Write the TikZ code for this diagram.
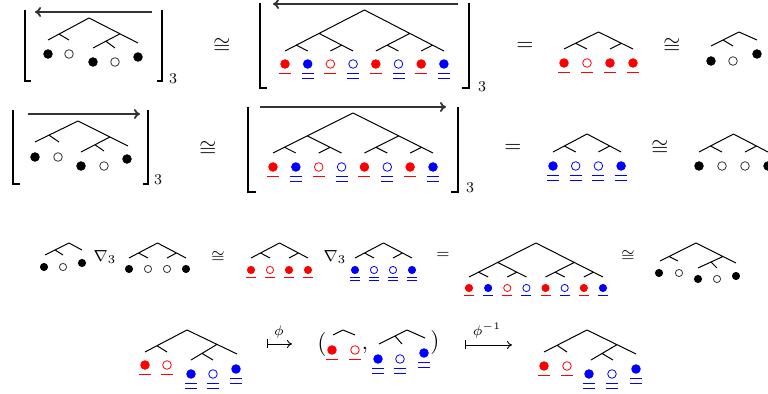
\documentclass[tikz,border=0pt]{standalone}
\usetikzlibrary{arrows.meta}
\begin{document}
\newcount\dotc
\def\ua{9.7}\def\ub{14.3}\def\uw{6}\def\blsingle{0}\def\ds{4.3pt}
\tikzset{
 tedge/.style={line width=0.5pt},
 dot/.style={circle,inner sep=0pt,minimum size=\ds},
 ul/.style={line width=0.5pt},
 brk/.style={line width=0.7pt},
 toparr/.style={line width=0.9pt, black!80, -{To[length=3pt,width=5pt]}},
 maps/.style={line width=0.45pt, {Bar[width=4.5pt]}-{To[length=2.5pt,width=4pt]}},
 txt/.style={inner sep=0pt, font=\fontsize{10.5}{12}\selectfont},
 stxt/.style={inner sep=0pt, font=\fontsize{8.5}{10}\selectfont},
 sub/.style={inner sep=0pt, font=\fontsize{7.5}{9}\selectfont},
}
\newcommand\mkdot[4]{\global\advance\dotc by 1
 \node[dot,fill=#1,draw=#2,line width=0.4pt] (dot\the\dotc) at (#3,#4) {};}
\newcommand\ulR[2]{\draw[ul,red] ({#1-\uw},{#2+\ua}) -- ({#1+\uw},{#2+\ua});}
\newcommand\ulB[2]{\draw[ul,blue] ({#1-\uw},{#2+\ua}) -- ({#1+\uw},{#2+\ua});
 \ifnum\blsingle=0 \draw[ul,blue] ({#1-\uw},{#2+\ub}) -- ({#1+\uw},{#2+\ub});\fi}
\newcommand\dRf[2]{\mkdot{red}{red}{#1}{#2}\ulR{#1}{#2}}
\newcommand\dRo[2]{\mkdot{white}{red}{#1}{#2}\ulR{#1}{#2}}
\newcommand\dBf[2]{\mkdot{blue}{blue}{#1}{#2}\ulB{#1}{#2}}
\newcommand\dBo[2]{\mkdot{white}{blue}{#1}{#2}\ulB{#1}{#2}}
\newcommand\dKf[2]{\mkdot{black}{black}{#1}{#2}}
\newcommand\dKo[2]{\mkdot{white}{black!80}{#1}{#2}}
% four-leaf tree: name, x0, dx, yleaf, slope, ydot, dot styles
\newcommand\FourT[7]{%
 \coordinate (#1r) at ({#2+1.5*#3},{#4-#5*1.5*#3});
 \coordinate (#1a) at ({#2+0.5*#3},{#4-#5*0.5*#3});
 \coordinate (#1b) at ({#2+2.5*#3},{#4-#5*0.5*#3});
 \foreach \i in {0,...,3} {\coordinate (#1l\i) at ({#2+\i*#3},#4);}
 \draw[tedge] (#1r)--(#1l0) (#1r)--(#1l3) (#1a)--(#1l1) (#1b)--(#1l2);
 \foreach \st [count=\i from 0] in {#7} {\pgfmathsetmacro\xx{#2+\i*#3}\csname\st\endcsname{\xx}{#6}}
}
% eight-leaf tree
\newcommand\EightT[7]{%
 \coordinate (#1r) at ({#2+3.5*#3},{#4-#5*3.5*#3});
 \coordinate (#1a) at ({#2+1.5*#3},{#4-#5*1.5*#3});
 \coordinate (#1b) at ({#2+5.5*#3},{#4-#5*1.5*#3});
 \coordinate (#1aa) at ({#2+0.5*#3},{#4-#5*0.5*#3});
 \coordinate (#1ab) at ({#2+2.5*#3},{#4-#5*0.5*#3});
 \coordinate (#1ba) at ({#2+4.5*#3},{#4-#5*0.5*#3});
 \coordinate (#1bb) at ({#2+6.5*#3},{#4-#5*0.5*#3});
 \foreach \i in {0,...,7} {\coordinate (#1l\i) at ({#2+\i*#3},#4);}
 \draw[tedge] (#1r)--(#1l0) (#1r)--(#1l7) (#1a)--(#1l3) (#1b)--(#1l4)
   (#1aa)--(#1l1) (#1ab)--(#1l2) (#1ba)--(#1l5) (#1bb)--(#1l6);
 \foreach \st [count=\i from 0] in {#7} {\pgfmathsetmacro\xx{#2+\i*#3}\csname\st\endcsname{\xx}{#6}}
}
\newcommand\FiveE[1]{\draw[tedge] (#1R)--(#1L1) (#1A)--(#1L2) (#1R)--(#1L5) (#1B)--(#1L3) (#1C)--(#1L4);}
\newcommand\ThreeE[1]{\draw[tedge] (#1R)--(#1L1) (#1A)--(#1L2) (#1R)--(#1L3);}
\newcommand\FiveC[9]{\coordinate (#1R) at (#2); \coordinate (#1L1) at (#3); \coordinate (#1A) at (#4);
 \coordinate (#1L2) at (#5); \coordinate (#1L5) at (#6); \coordinate (#1B) at (#7); \coordinate (#1L3) at (#8); \coordinate (#1C) at (#9);}

\begin{tikzpicture}[x=0.5pt,y=-0.5pt]
\path[use as bounding box] (0,0) rectangle (768,394);

%================ ROW 1
% bracket 1
\coordinate (b1tl) at (25,10); \coordinate (b1bl) at (25,81); \coordinate (b1fl) at (31,81);
\coordinate (b1tr) at (162,10); \coordinate (b1br) at (162,81); \coordinate (b1fr) at (157,81);
\draw[brk] (b1tl) -- (b1bl) -- (b1fl);
\draw[brk] (b1tr) -- (b1br) -- (b1fr);
\node[sub] (s1) at (173,79) {3};
\coordinate (a1s) at (152,12); \coordinate (a1e) at (35,12);
\draw[toparr] (a1s) -- (a1e);
\FiveC{T1}{89,18}{48,40}{59,34.1}{69,40}{138,43}{120,33.8}{93,48}{106,41.3}
\coordinate (T1L4) at (115,48);
\FiveE{T1}
\dKf{48}{54}\dKo{69}{54}\dKf{93}{62}\dKo{115}{62}\dKf{138}{57}

\node[txt] (c1) at (222,46) {$\cong$};

% bracket 2
\coordinate (b2tl) at (260,3); \coordinate (b2bl) at (260,88); \coordinate (b2fl) at (267,88);
\coordinate (b2tr) at (469,3); \coordinate (b2br) at (469,88); \coordinate (b2fr) at (462,88);
\draw[brk] (b2tl) -- (b2bl) -- (b2fl);
\draw[brk] (b2tr) -- (b2br) -- (b2fr);
\node[sub] (s2) at (482,87) {3};
\coordinate (a2s) at (458,4); \coordinate (a2e) at (273,4);
\draw[toparr] (a2s) -- (a2e);
\EightT{T2}{285}{22.7}{51}{0.516}{64}{dRf,dBf,dRo,dBo,dRf,dBo,dRf,dBf}

\node[txt] (e1) at (525,46) {$=$};
\FourT{T3}{564}{23}{49}{0.493}{63}{dRf,dRo,dRf,dRf}
\node[txt] (c2) at (672,46) {$\cong$};
\coordinate (T4R) at (739,32); \coordinate (T4L1) at (711,46); \coordinate (T4A) at (723,40);
\coordinate (T4L2) at (733,46); \coordinate (T4L3) at (757,40);
\ThreeE{T4}
\dKf{711}{61}\dKo{733}{61}\dKf{757}{54}

%================ ROW 2
\coordinate (b3tl) at (13,110); \coordinate (b3bl) at (13,184); \coordinate (b3fl) at (20,184);
\coordinate (b3tr) at (148,110); \coordinate (b3br) at (148,184); \coordinate (b3fr) at (143,184);
\draw[brk] (b3tl) -- (b3bl) -- (b3fl);
\draw[brk] (b3tr) -- (b3br) -- (b3fr);
\node[sub] (s3) at (158,180) {3};
\coordinate (a3s) at (28,114); \coordinate (a3e) at (140,114);
\draw[toparr] (a3s) -- (a3e);
\FiveC{U1}{78,121}{35,142}{49,135.2}{59,142}{128,146}{110,137}{81,152}{95,144.8}
\coordinate (U1L4) at (104,151);
\FiveE{U1}
\dKf{35}{157}\dKo{58}{157}\dKf{81}{166}\dKo{104}{166}\dKf{127}{159}

\node[txt] (c3) at (208,149) {$\cong$};

\coordinate (b4tl) at (248,107); \coordinate (b4bl) at (248,192); \coordinate (b4fl) at (256,192);
\coordinate (b4tr) at (458,107); \coordinate (b4br) at (458,192); \coordinate (b4fr) at (451,192);
\draw[brk] (b4tl) -- (b4bl) -- (b4fl);
\draw[brk] (b4tr) -- (b4br) -- (b4fr);
\node[sub] (s4) at (470,188) {3};
\coordinate (a4s) at (260,107); \coordinate (a4e) at (446,107);
\draw[toparr] (a4s) -- (a4e);
\EightT{U2}{273}{22.86}{153}{0.5}{167}{dRf,dBf,dRo,dBo,dRf,dBo,dRf,dBf}

\node[txt] (e2) at (513,148) {$=$};
\FourT{U3}{553}{22.7}{152}{0.529}{166}{dBf,dBo,dBo,dBf}
\node[txt] (c4) at (660,148) {$\cong$};
\FourT{U4}{699}{23}{152}{0.52}{166}{dKf,dKo,dKo,dKf}

%================ ROW 3
\begin{scope}
\def\ds{3.6pt}\def\ua{7.3}\def\ub{11}\def\uw{5}
\coordinate (V1R) at (69,243); \coordinate (V1L1) at (45,255); \coordinate (V1A) at (55,250);
\coordinate (V1L2) at (63,255); \coordinate (V1L3) at (82,250);
\ThreeE{V1}
\dKf{44}{267}\dKo{63}{267}\dKf{82}{263}
\node[stxt] (n1) at (105,257) {$\nabla_3$};
\FourT{V2}{129}{19}{258}{0.526}{269}{dKf,dKo,dKo,dKf}
\node[stxt] (c5) at (218,257) {$\cong$};
\FourT{V3}{251}{19}{258}{0.526}{270}{dRf,dRo,dRf,dRf}
\node[stxt] (n2) at (335,257) {$\nabla_3$};
\FourT{V4}{355}{19}{258}{0.526}{270}{dBf,dBo,dBo,dBf}
\node[stxt] (e3) at (443,255) {$=$};
\begin{scope}
\def\blsingle{1}\def\ua{8}
\EightT{V5}{469}{19.14}{277}{0.507}{288}{dRf,dBf,dRo,dBo,dRf,dBo,dRf,dBf}
\end{scope}
\node[stxt] (c6) at (628,256) {$\cong$};
\FiveC{V6}{696,243}{660,261}{669,256.5}{678,261}{736,263}{723,256.5}{698,268}{711,262}
\coordinate (V6L4) at (717,268);
\FiveE{V6}
\dKf{659}{273}\dKo{679}{273}\dKf{698}{279}\dKo{717}{279}\dKf{736}{276}
\end{scope}

%================ ROW 4
\FiveC{W1}{187,330}{145,352}{157,345.7}{167,352}{237,354}{217,344.4}{191,360}{202,353.4}
\coordinate (W1L4) at (213,360);
\FiveE{W1}
\dRf{145}{365}\dRo{167}{365}\dBf{191}{374}\dBo{213}{374}\dBf{236}{369}

\coordinate (m1s) at (267,344); \coordinate (m1e) at (292,344);
\draw[maps] (m1s) -- (m1e);
\node[sub] (phi1) at (279,332) {$\phi$};

\node[txt,font=\fontsize{11.5}{13}\selectfont] (lp) at (322,345) {$($};
\coordinate (W2R) at (343,330); \coordinate (W2L1) at (333,335); \coordinate (W2L2) at (355,335);
\draw[tedge] (W2R) -- (W2L1) (W2R) -- (W2L2);
\dRf{332}{350}\dRo{355}{350}
\node[txt] (cm) at (365,350) {$,$};
\coordinate (W3R) at (407,330); \coordinate (W3L1) at (379,344); \coordinate (W3A) at (395,336);
\coordinate (W3L2) at (402,344); \coordinate (W3L3) at (425,338);
\ThreeE{W3}
\dBf{378}{359}\dBo{400}{359}\dBf{424}{353}
\node[txt,font=\fontsize{11.5}{13}\selectfont] (rp) at (435,343) {$)$};

\coordinate (m2s) at (465,345); \coordinate (m2e) at (512,345);
\draw[maps] (m2s) -- (m2e);
\node[sub] (phi2) at (487,331) {$\phi^{-1}$};

\FiveC{W4}{587,330}{544,352}{557,345.3}{567,352}{636,354}{617,344.7}{591,360}{602,353.5}
\coordinate (W4L4) at (613,360);
\FiveE{W4}
\dRf{544}{366}\dRo{567}{366}\dBf{589}{374}\dBo{612}{374}\dBf{636}{369}
\end{tikzpicture}
\end{document}
